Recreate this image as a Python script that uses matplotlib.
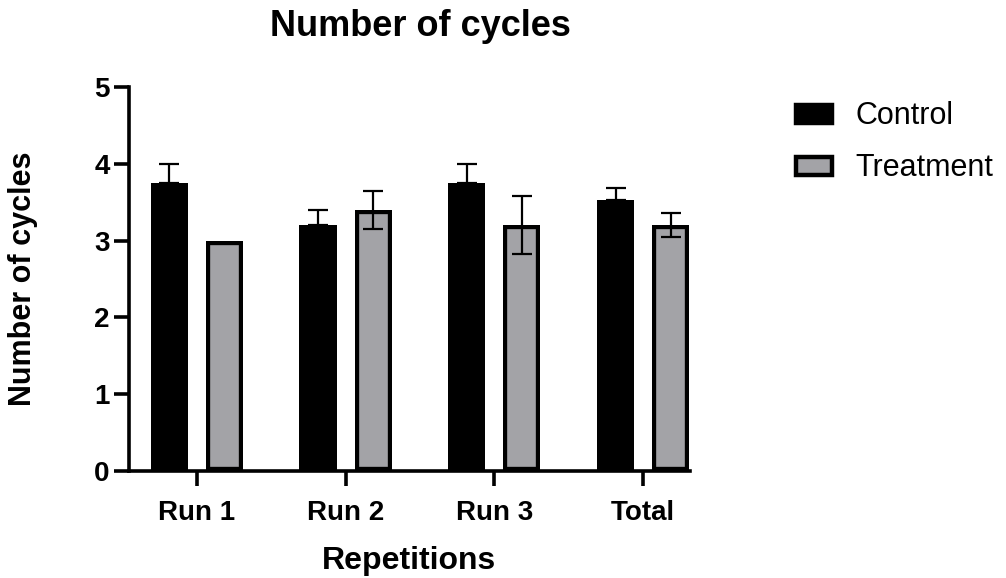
import matplotlib
matplotlib.use("Agg")
import matplotlib.pyplot as plt
import numpy as np
from matplotlib.patches import Patch

categories = ["Run 1", "Run 2", "Run 3", "Total"]
control = [3.75, 3.2, 3.75, 3.53]
control_err = [0.25, 0.2, 0.25, 0.16]
treatment = [3.0, 3.4, 3.2, 3.2]
treatment_err = [0.0, 0.245, 0.375, 0.155]
series_names = ["Control", "Treatment"]

plt.rcParams['font.family'] = ['Liberation Sans', 'DejaVu Sans']

fig = plt.figure(figsize=(10.06, 5.78), dpi=100)
ax = fig.add_axes([129/1006, 1-471/578, (690-129)/1006, (471-87)/578])

x = np.arange(len(categories))
off = 0.185
w = 0.25
edge_lw = 6.0
gray = '#A3A3A7'
b1 = ax.bar(x - off, control, width=w, color='black', edgecolor='black', linewidth=edge_lw, zorder=2)
b2 = ax.bar(x + off, treatment, width=w, color=gray, edgecolor='black', linewidth=edge_lw, zorder=2)
# border drawn inside the bar outline
for p in list(b1) + list(b2):
    p.set_clip_path(p)

# error bars (control: upper only visible; treatment: both)
ax.errorbar(x - off, control, yerr=[np.zeros(len(control)), control_err], fmt='none',
            ecolor='black', elinewidth=1.6, capsize=7, capthick=1.6, zorder=3)
tx = [xi + off for xi, e in zip(x, treatment_err) if e > 0]
ty = [v for v, e in zip(treatment, treatment_err) if e > 0]
te = [e for e in treatment_err if e > 0]
ax.errorbar(tx, ty, yerr=te, fmt='none', ecolor='black', elinewidth=1.6,
            capsize=7, capthick=1.6, zorder=3)

ax.set_xlim(-0.456, 3.315)
ax.set_ylim(0, 5)
ax.set_yticks([0, 1, 2, 3, 4, 5])
ax.set_xticks(x)
ax.set_xticklabels(categories, fontsize=20, fontweight='bold')
for lbl in ax.get_yticklabels():
    lbl.set_fontsize(20)
    lbl.set_fontweight('bold')
ax.tick_params(axis='both', width=2.6, length=11)
ax.tick_params(axis='x', pad=10)
ax.tick_params(axis='y', pad=3)
for s in ['top', 'right']:
    ax.spines[s].set_visible(False)
for s in ['left', 'bottom']:
    ax.spines[s].set_linewidth(2.6)
    ax.spines[s].set_capstyle('projecting')
    ax.spines[s].set_zorder(4)

ax.set_ylabel("Number of cycles", fontsize=22, fontweight='bold')
ax.yaxis.set_label_coords((38-129)/561, 0.5)
ax.set_xlabel("Repetitions", fontsize=23, fontweight='bold', labelpad=14)
fig.text(420/1006, 1-27/578, "Number of cycles", fontsize=26, fontweight='bold',
         ha='center', va='center')

handles = [Patch(facecolor='black', edgecolor='black', linewidth=3.2),
           Patch(facecolor=gray, edgecolor='black', linewidth=3.2)]
leg = fig.legend(handles, series_names, loc='upper left', bbox_to_anchor=(768/1006, 1-74/578),
                 frameon=False, fontsize=22, handlelength=1.2, handleheight=0.52,
                 handletextpad=0.75, labelspacing=0.72)

fig.savefig("out.png", dpi=100)
